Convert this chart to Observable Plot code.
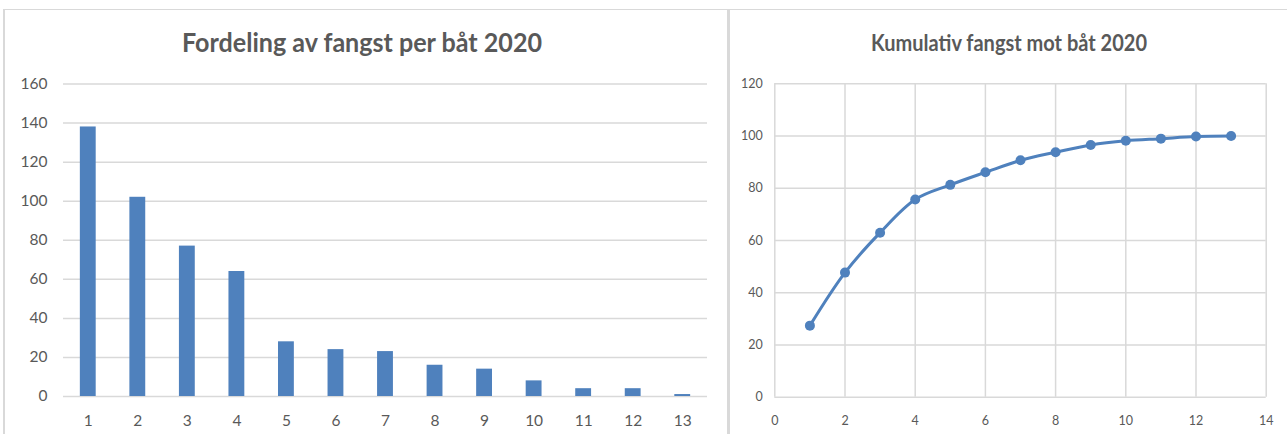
<!DOCTYPE html>
<html>
<head>
<meta charset="utf-8">
<script src="https://cdn.jsdelivr.net/npm/d3@7"></script>
<script src="https://cdn.jsdelivr.net/npm/@observablehq/plot@0.6"></script>
<style>
html, body { margin: 0; padding: 0; background: #fff; }
#wrap { position: relative; width: 1287px; height: 434px; overflow: hidden; background: #fff; font-family: Lato, "Open Sans", sans-serif; }
.chart { position: absolute; top: 0; }
.panel { position: absolute; box-sizing: border-box; border-top: 1.5px solid #d9d9d9; border-left: 2px solid #d9d9d9; pointer-events: none; }
#p1 { left: 3px; top: 9px; width: 725px; height: 440px; }
#p2 { left: 727px; top: 9px; width: 600px; height: 440px; border-left-width: 3px; }
#titles { position: absolute; left: 0; top: 0; }
</style>
</head>
<body>
<div id="wrap">
  <div id="c1" class="chart" style="left:0px"></div>
  <div id="c2" class="chart" style="left:728px"></div>
  <div id="p1" class="panel"></div>
  <div id="p2" class="panel"></div>
</div>
<script>
// ---- data ----
const boats = [1, 2, 3, 4, 5, 6, 7, 8, 9, 10, 11, 12, 13];
const catchPerBoat = [138, 102, 77, 64, 28, 24, 23, 16, 14, 8, 4, 4, 1];
const cumulativePct = [27.4, 47.7, 63.0, 75.7, 81.3, 86.1, 90.7, 93.8, 96.6, 98.2, 99.0, 99.8, 100];
const yTicksLeft = [0, 20, 40, 60, 80, 100, 120, 140, 160];
const xTicksRight = [0, 2, 4, 6, 8, 10, 12, 14];
const yTicksRight = [0, 20, 40, 60, 80, 100, 120];
const titleLeft = "Fordeling av fangst per båt 2020";
const titleRight = "Kumulativ fangst mot båt 2020";

const barData = boats.map((b, i) => ({boat: b, value: catchPerBoat[i]}));
const cumData = boats.map((b, i) => ({boat: b, pct: cumulativePct[i]}));

const blue = "#4f81bd";
const grid = "#d9d9d9";
const textGray = "#595959";

const left = Plot.plot({
  width: 728, height: 434,
  marginLeft: 63, marginRight: 21, marginTop: 83.5, marginBottom: 38,
  style: {fontFamily: "Lato, 'Open Sans', sans-serif", fontSize: "15.5px", color: textGray, background: "transparent"},
  x: {type: "band", domain: boats, round: false, paddingInner: 0.68, paddingOuter: 0.34, tickSize: 0, tickPadding: 18, label: null},
  y: {domain: [0, 160], ticks: yTicksLeft, tickSize: 0, tickPadding: 16, label: null},
  marks: [
    Plot.ruleY(yTicksLeft, {stroke: grid, strokeWidth: 1.5}),
    Plot.barY(barData, {x: "boat", y: "value", fill: blue})
  ]
});
document.getElementById("c1").appendChild(left);

const right = Plot.plot({
  width: 559, height: 434,
  marginLeft: 46.3, marginRight: 21.3, marginTop: 83.3, marginBottom: 37.3,
  style: {fontFamily: "Lato, 'Open Sans', sans-serif", fontSize: "12.5px", color: textGray, background: "transparent"},
  x: {domain: [0, 14], ticks: xTicksRight, tickSize: 0, tickPadding: 19, label: null},
  y: {domain: [0, 120], ticks: yTicksRight, tickSize: 0, tickPadding: 12, label: null},
  marks: [
    Plot.ruleY(yTicksRight, {stroke: grid, strokeWidth: 1.5}),
    Plot.ruleX(xTicksRight, {stroke: grid, strokeWidth: 1.5}),
    Plot.line(cumData, {x: "boat", y: "pct", stroke: blue, strokeWidth: 3, curve: "catmull-rom"}),
    Plot.dot(cumData, {x: "boat", y: "pct", r: 5, fill: blue, stroke: "none"})
  ]
});
document.getElementById("c2").appendChild(right);

// ---- titles ----
const svg = d3.select("#wrap").append("svg")
  .attr("id", "titles").attr("width", 1287).attr("height", 434);
svg.append("text")
  .attr("x", 362).attr("y", 51.7)
  .attr("text-anchor", "middle")
  .attr("font-family", "Lato, 'Open Sans', sans-serif")
  .attr("font-weight", "bold").attr("font-size", 27)
  .attr("fill", textGray)
  .attr("textLength", 360).attr("lengthAdjust", "spacingAndGlyphs")
  .text(titleLeft);
svg.append("text")
  .attr("x", 1009).attr("y", 50.7)
  .attr("text-anchor", "middle")
  .attr("font-family", "Lato, 'Open Sans', sans-serif")
  .attr("font-weight", "bold").attr("font-size", 22)
  .attr("fill", textGray)
  .attr("textLength", 276).attr("lengthAdjust", "spacingAndGlyphs")
  .text(titleRight);
</script>
</body>
</html>
